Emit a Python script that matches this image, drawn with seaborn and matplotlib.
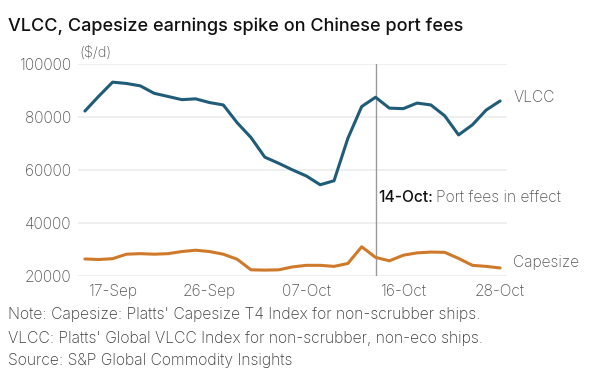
import numpy as np
import pandas as pd
import matplotlib
matplotlib.use("Agg")
import matplotlib.pyplot as plt
import seaborn as sns

# assessment dates (Singapore holiday 20-Oct missing)
dates = ["15-Sep", "16-Sep", "17-Sep", "18-Sep", "19-Sep",
         "22-Sep", "23-Sep", "24-Sep", "25-Sep", "26-Sep",
         "29-Sep", "30-Sep", "01-Oct", "02-Oct", "03-Oct",
         "06-Oct", "07-Oct", "08-Oct", "09-Oct", "10-Oct",
         "13-Oct", "14-Oct", "15-Oct", "16-Oct", "17-Oct",
         "21-Oct", "22-Oct", "23-Oct", "24-Oct", "27-Oct", "28-Oct"]

vlcc = [82200, 87800, 93100, 92600, 91700, 88900, 87700, 86500, 86800, 85400,
        84500, 77800, 72200, 64800, 62500, 60000, 57700, 54400, 55900, 71900,
        83900, 87400, 83300, 83100, 85200, 84500, 80400, 73200, 77000, 82600, 86000]

capesize = [26400, 26200, 26500, 28200, 28400, 28200, 28400, 29200, 29700, 29200,
            28200, 26300, 22300, 22200, 22300, 23400, 24000, 24000, 23600, 24700,
            31000, 27000, 25700, 27800, 28700, 29000, 28900, 26600, 24000, 23600, 23000]

tick_labels = ["17-Sep", "26-Sep", "07-Oct", "16-Oct", "28-Oct"]
event_date = "14-Oct"

df = pd.DataFrame({"pos": range(len(dates)), "date": dates, "VLCC": vlcc, "Capesize": capesize})

sns.set_theme(style="white")
plt.rcParams["font.family"] = ["Inter", "DejaVu Sans"]

fig = plt.figure(figsize=(6, 3.87), dpi=100)
ax = fig.add_axes([0.13, 0.287, 0.715, 0.548])

for y in [20000, 40000, 60000, 80000, 100000]:
    ax.axhline(y, color="#ececec", lw=1.2, zorder=0)

ev = dates.index(event_date)
ax.axvline(ev, color="#9a9a9a", lw=1, zorder=1)

sns.lineplot(data=df, x="pos", y="VLCC", color="#1f5c78", lw=2.2, ax=ax, zorder=3)
sns.lineplot(data=df, x="pos", y="Capesize", color="#cf792b", lw=2.2, ax=ax, zorder=3)

ax.set_xlim(-0.5, len(dates) - 0.5)
ax.set_ylim(20000, 100000)
ax.set_yticks([20000, 40000, 60000, 80000, 100000])
ax.set_yticklabels(["20000", "40000", "60000", "80000", "100000"])
ax.set_xticks([dates.index(t) for t in tick_labels])
ax.set_xticklabels(tick_labels)
ax.tick_params(axis="both", length=0, labelsize=11.2, labelcolor="#555555")
ax.tick_params(axis="y", pad=5)
ax.tick_params(axis="x", pad=6)
for lab in ax.get_xticklabels() + ax.get_yticklabels():
    lab.set_fontweight("light")
ax.set_xlabel("")
ax.set_ylabel("")
sns.despine(ax=ax, left=True, bottom=True)

# series labels
ax.text(len(dates) - 0.5 + 0.45, vlcc[-1] + 1300, "VLCC", fontsize=11.2, color="#555555",
        va="center", fontweight="light")
ax.text(len(dates) - 0.5 + 0.45, capesize[-1] + 1900, "Capesize", fontsize=11.2, color="#555555",
        va="center", fontweight="light")

# event annotation
t1 = ax.text(ev + 0.2, 49500, "14-Oct:", fontsize=11.2, color="#111111", fontweight="medium", va="center")
fig.canvas.draw()
bb = t1.get_window_extent()
x_end = ax.transData.inverted().transform((bb.x1, bb.y0))[0]
ax.text(x_end + 0.2, 49500, "Port fees in effect", fontsize=11.2, color="#555555", va="center",
        fontweight="light")

fig.text(0.133, 1 - 53 / 387, "($/d)", fontsize=10.5, color="#555555", va="center", fontweight="light")
fig.text(0.013, 1 - 26 / 387, "VLCC, Capesize earnings spike on Chinese port fees",
         fontsize=13, fontweight="medium", color="#111111", va="center")

notes = ["Note: Capesize: Platts' Capesize T4 Index for non-scrubber ships.",
         "VLCC: Platts' Global VLCC Index for non-scrubber, non-eco ships.",
         "Source: S&P Global Commodity Insights"]
for i, n in enumerate(notes):
    fig.text(0.013, 1 - (315 + i * 23) / 387, n, fontsize=11.3, color="#3a3a3a", va="center",
             fontweight="light")

fig.savefig("out.png", dpi=100)
